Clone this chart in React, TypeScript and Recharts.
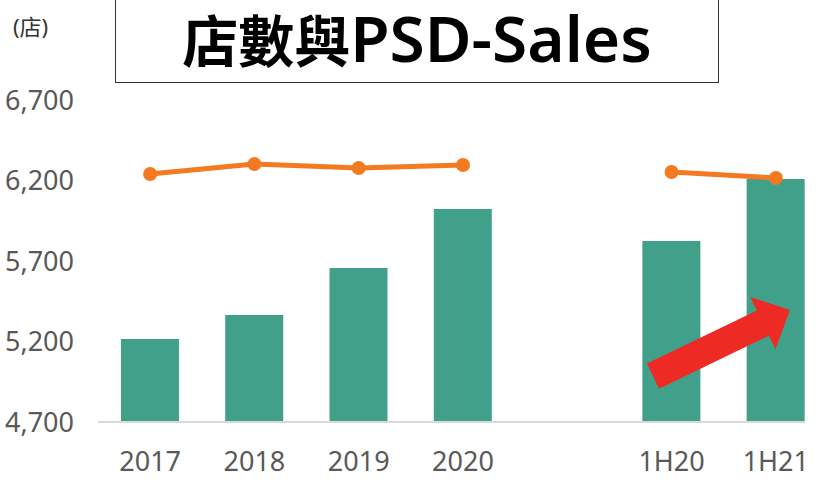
import { Bar, ComposedChart, Line, ReferenceLine, XAxis, YAxis } from "recharts";

const categories = ["2017", "2018", "2019", "2020", " ", "1H20", "1H21"];
const storeCounts: (number | null)[] = [5215, 5365, 5656, 6023, null, 5824, 6209];
const psdSales: (number | null)[] = [6240, 6302, 6278, 6296, null, 6253, 6216];
const yTicks = [4700, 5200, 5700, 6200, 6700];

// arrow annotation, anchored to the two half-year categories
const arrowFrom = { x: "1H20", y: 5041 };
const arrowTo = { x: "1H21", y: 5353 };

const data = categories.map((name, i) => ({
  name,
  stores: storeCounts[i],
  psd: psdSales[i],
}));

const FONT = "'Noto Sans', 'Noto Sans CJK TC', sans-serif";

function Arrow(props: any) {
  const { x1, y1, x2, y2 } = props;
  const dx = x2 - x1;
  const dy = y2 - y1;
  const tx = x1 - dx * 0.178;
  const ty = y1 - dy * 0.178;
  const hx = x2 + dx * 0.135;
  const hy = y2 + dy * 0.135;
  const len = Math.hypot(hx - tx, hy - ty);
  const ux = (hx - tx) / len;
  const uy = (hy - ty) / len;
  const nx = -uy;
  const ny = ux;
  const shaft = 14;
  const head = 29;
  const headLen = 30;
  const bx = hx - ux * headLen;
  const by = hy - uy * headLen;
  const pts = [
    [tx + nx * shaft, ty + ny * shaft],
    [bx + nx * shaft, by + ny * shaft],
    [bx + nx * head, by + ny * head],
    [hx, hy],
    [bx - nx * head, by - ny * head],
    [bx - nx * shaft, by - ny * shaft],
    [tx - nx * shaft, ty - ny * shaft],
  ]
    .map((p) => p.join(","))
    .join(" ");
  return <polygon points={pts} fill="#EE2A24" />;
}

export default function App() {
  return (
    <div
      style={{
        position: "absolute",
        left: 0,
        top: 0,
        width: 820,
        height: 484,
        background: "#fff",
        fontFamily: FONT,
        overflow: "hidden",
      }}
    >
      <div style={{ position: "absolute", left: 0, top: 0, width: 820, height: 484, overflow: "hidden" }}>
        <ComposedChart
          width={828}
          height={484}
          data={data}
          barCategoryGap="22%"
          margin={{ top: 100, right: 0, left: 0, bottom: 22 }}
        >
          <XAxis
            dataKey="name"
            height={40}
            tickLine={false}
            axisLine={{ stroke: "#d9d9d9", strokeWidth: 2 }}
            tick={{ fill: "#595959", fontSize: 27, fontFamily: FONT }}
            tickMargin={24}
            interval={0}
          />
          <YAxis
            width={98}
            domain={[4700, 6700]}
            ticks={yTicks}
            axisLine={false}
            tickLine={false}
            tickSize={0}
            tickMargin={24}
            tick={{ fill: "#595959", fontSize: 27, fontFamily: FONT }}
            tickFormatter={(v: number) => v.toLocaleString("en-US")}
          />
          <Bar dataKey="stores" fill="#41A08A" isAnimationActive={false} />
          <Line
            dataKey="psd"
            stroke="#F47920"
            strokeWidth={5}
            dot={{ r: 7, fill: "#F47920", stroke: "#F47920", strokeWidth: 0 }}
            activeDot={false}
            connectNulls={false}
            isAnimationActive={false}
          />
          <ReferenceLine segment={[arrowFrom, arrowTo]} shape={Arrow} />
        </ComposedChart>
      </div>
      <div style={{ position: "absolute", left: 805, top: 0, width: 15, height: 484, background: "#fff" }} />
      <div
        style={{
          position: "absolute",
          left: 13,
          top: 9,
          fontSize: 22,
          color: "#333",
          fontFamily: FONT,
        }}
      >
        (店)
      </div>
      <div
        style={{
          position: "absolute",
          left: 115,
          top: 0,
          width: 604,
          height: 83,
          border: "1.5px solid #333",
          borderTop: "none",
          boxSizing: "border-box",
          background: "#fff",
        }}
      />
      <svg
        width={604}
        height={83}
        style={{ position: "absolute", left: 115, top: 0, overflow: "visible" }}
      >
        <text x={302} y={62} textAnchor="middle" fill="#000">
          <tspan fontFamily="'Noto Sans CJK TC', sans-serif" fontSize={56} fontWeight={700}>
            店數與
          </tspan>
          <tspan fontFamily="'Noto Sans', sans-serif" fontSize={64} fontWeight={600}>
            PSD-Sales
          </tspan>
        </text>
      </svg>
    </div>
  );
}
